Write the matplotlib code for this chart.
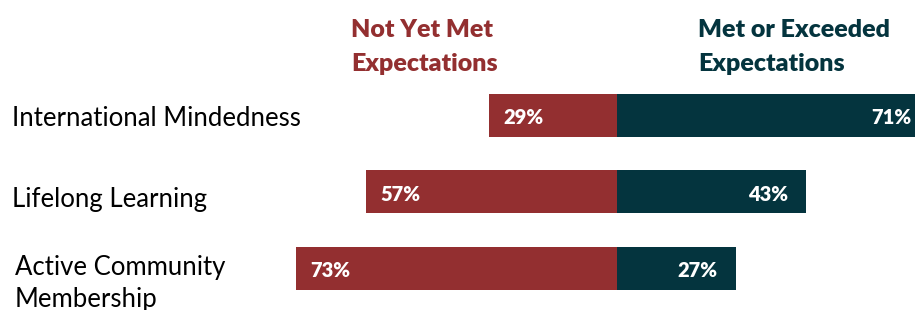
import matplotlib.pyplot as plt
from matplotlib.transforms import blended_transform_factory

# =============== Data ===============
CATEGORIES   = ["International Mindedness", "Lifelong Learning", "Active Community\nMembership"]
NOT_YET_MET  = [29, 57, 73]
MET_EXCEEDED = [71, 43, 27]
HEADER_LEFT  = "Not Yet Met\nExpectations"
HEADER_RIGHT = "Met or Exceeded\nExpectations"

# =============== Style ===============
RED   = "#932F30"
TEAL  = "#04343E"
FONT  = ["Lato", "DejaVu Sans"]
W, H  = 915, 310
PX_PER_PCT = 4.4      # horizontal scale
CENTER_PX  = 617      # where the two stacks meet

plt.rcParams["font.family"] = FONT

fig = plt.figure(figsize=(W / 100, H / 100), dpi=100)
ax = fig.add_axes([0, 0, 1, 1])

# x in percent, centred on CENTER_PX
ax.set_xlim(-CENTER_PX / PX_PER_PCT, (W - CENTER_PX) / PX_PER_PCT)
# rows: centres at 115.5, 191.5, 268 px from top
step = 76.25
ax.set_ylim(2 + (H - 268) / step, -115.5 / step)
ax.axis("off")

y = list(range(len(CATEGORIES)))
bar_h = 43 / step
neg = [-v for v in NOT_YET_MET]
ax.barh(y, neg, height=bar_h, color=RED, linewidth=0)
ax.barh(y, MET_EXCEEDED, height=bar_h, color=TEAL, linewidth=0)

pad = 14 / PX_PER_PCT
for yi, v in zip(y, NOT_YET_MET):
    ax.text(-v + pad, yi + 0.03, f"{v}%", ha="left", va="center",
            color="white", fontsize=14.5, fontweight="heavy")
for yi, v in zip(y, MET_EXCEEDED):
    ax.text(v - pad - 4 / PX_PER_PCT, yi + 0.03, f"{v}%", ha="right", va="center",
            color="white", fontsize=14.5, fontweight="heavy")

# category labels on the left (x in figure fraction, y in data)
trans = blended_transform_factory(fig.transFigure, ax.transData)
label_y = [0.04, 0.10, -0.17]
label_x = [12 / W, 12 / W, 15 / W]
for i, (lab, dy, lx) in enumerate(zip(CATEGORIES, label_y, label_x)):
    if "\n" in lab:
        ax.text(lx, i + dy, lab, transform=trans, ha="left", va="top",
                fontsize=18.5, color="black", linespacing=1.33)
    else:
        ax.text(lx, i + dy, lab, transform=trans, ha="left", va="center",
                fontsize=18.5, color="black")

# column headers
fig.text(351 / W, 1 - 19 / H, HEADER_LEFT, ha="left", va="top", color=RED,
         fontsize=18, fontweight="heavy", linespacing=1.68)
fig.text(698 / W, 1 - 19 / H, HEADER_RIGHT, ha="left", va="top", color=TEAL,
         fontsize=18, fontweight="heavy", linespacing=1.68)

fig.savefig("out.png", dpi=100, facecolor="white")
